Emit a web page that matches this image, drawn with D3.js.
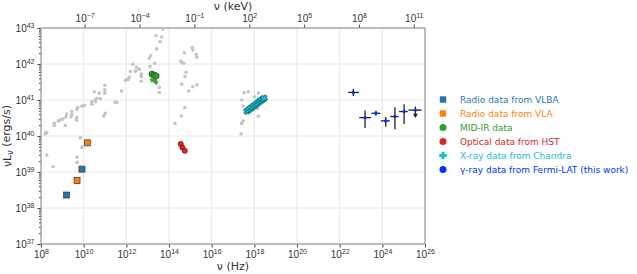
<!DOCTYPE html>
<html>
<head>
<meta charset="utf-8">
<script src="https://cdn.jsdelivr.net/npm/d3@7"></script>
<style>
  body { margin: 0; background: #fff; }
  svg { font-family: "DejaVu Sans", sans-serif; }
  .tick text { fill: #333; font-size: 10px; }
</style>
</head>
<body>
<svg width="637" height="274"></svg>
<script>
// all values are log10(nu / Hz) and log10(nuL_nu / erg s^-1)
var grayNu = [12.30, 12.42, 12.19, 12.09, 11.95, 11.78, 10.99, 10.99, 10.99, 10.50, 10.73, 10.62, 10.78, 10.53,
  10.38, 10.38, 10.55, 10.03, 9.92, 9.72, 9.69, 9.44, 9.44, 9.20, 9.17, 9.41, 9.67, 9.67, 9.02, 8.89, 8.81,
  8.62, 8.62, 9.14, 8.27, 8.20, 11.01, 10.94, 11.48, 11.56, 9.84,
  13.70, 13.39, 13.66, 13.58, 13.42, 13.14, 13.08, 13.33, 13.11, 12.49, 12.44, 12.61, 12.70, 12.70, 12.70,
  12.14, 12.05, 13.55, 13.55,
  15.09, 15.12, 14.72, 15.28, 15.30, 14.55, 14.61, 14.69, 14.80, 14.75, 14.60, 15.30, 15.11, 14.92, 14.74,
  14.58, 14.28,
  9.92, 8.27, 9.69, 9.69, 8.56, 8.23,
  17.52, 17.72, 17.41, 18.19, 18.00, 17.48, 18.16, 18.19, 17.48, 17.41, 17.38];
var grayL = [41.99, 41.79, 41.79, 41.57, 41.55, 41.25, 41.41, 41.28, 41.19, 41.23, 41.19, 41.05, 41.04, 41.00,
  40.95, 40.88, 40.95, 40.85, 40.83, 40.79, 40.74, 40.68, 40.59, 40.61, 40.53, 40.53, 40.51, 40.44, 40.47, 40.44, 40.42,
  40.35, 40.29, 40.29, 40.09, 40.06, 40.63, 40.56, 40.94, 40.93, 39.95,
  42.97, 42.79, 42.75, 42.62, 42.42, 42.23, 42.16, 42.02, 41.93, 41.91, 41.81, 41.85, 41.72, 41.65, 41.52,
  41.63, 41.57, 41.35, 41.21,
  42.46, 42.39, 42.31, 42.27, 42.19, 42.08, 42.04, 42.02, 41.77, 41.65, 41.44, 41.42, 41.37, 41.25, 40.79,
  40.56, 40.35,
  39.69, 39.47, 39.41, 39.27, 39.15, 40.10,
  41.20, 41.23, 41.00, 41.19, 41.09, 40.83, 40.77, 40.55, 40.42, 40.35, 40.06];

var vlbaNu = [9.20, 9.92], vlbaL = [38.36, 39.08];
var vlaNu = [9.69, 10.17], vlaL = [38.76, 39.81];
var irNu = [13.20, 13.31, 13.40], irL = [41.72, 41.69, 41.67], irLow = [41.52, 41.50, 41.45];
var optNu = [14.55, 14.63, 14.74], optL = [39.78, 39.68, 39.59];
var xrayNu = [17.65, 17.74, 17.83, 17.92, 18.00, 18.08, 18.16, 18.24, 18.32, 18.40, 18.46];
var xrayL = [40.69, 40.73, 40.77, 40.81, 40.84, 40.88, 40.92, 40.96, 40.99, 41.02, 41.05];
var gamNu = [22.64, 23.19, 23.70, 24.16, 24.59, 25.02, 25.55];
var gamL = [41.21, 40.51, 40.63, 40.42, 40.54, 40.68, 40.72];
var gamNuLo = [22.40, 22.92, 23.49, 23.93, 24.37, 24.78, 25.22];
var gamNuHi = [22.90, 23.47, 23.91, 24.35, 24.76, 25.19, 25.84];
var gamLLo = [41.11, 40.22, 40.56, 40.26, 40.19, 40.33, 40.55];
var gamLHi = [41.31, 40.71, 40.70, 40.53, 40.80, 40.88, 40.82];
var gamUL = [false, false, false, false, false, false, true];

var xTicks = [8, 10, 12, 14, 16, 18, 20, 22, 24, 26];
var yTicks = [37, 38, 39, 40, 41, 42, 43];
var topTicks = [-7, -4, -1, 2, 5, 8, 11];

var legendLabels = ["Radio data from VLBA", "Radio data from VLA", "MID-IR data",
  "Optical data from HST", "X-ray data from Chandra", "\u03b3-ray data from Fermi-LAT (this work)"];
var legendColors = ["#1f77b4", "#ff7f0e", "#2ca02c", "#d62728", "#17becf", "#0033ff"];
var legendShapes = ["square", "square", "circle", "circle", "plus", "circle"];

var svg = d3.select("svg");
var p = Math.pow.bind(null, 10);

var x = d3.scaleLog().domain([1e8, 1e26]).range([41, 425]);
var y = d3.scaleLog().domain([1e37, 1e43]).range([244, 28]);
var xTop = d3.scaleLog().domain([4.1e-10, 4.1e11]).range([41, 425]);

function sup(sel) {
  sel.each(function(d) {
    var e = Math.round(Math.log10(d));
    var t = d3.select(this).text("10");
    t.append("tspan").attr("dy", "-0.55em").style("font-size", "7px")
      .text(e < 0 ? "\u2212" + (-e) : e);
  });
}

// grid
svg.append("g").selectAll("line").data(xTicks).enter().append("line")
  .attr("x1", function(d) { return x(p(d)); }).attr("x2", function(d) { return x(p(d)); })
  .attr("y1", 28).attr("y2", 244).attr("stroke", "#e6e6e6");
svg.append("g").selectAll("line").data(yTicks).enter().append("line")
  .attr("y1", function(d) { return y(p(d)); }).attr("y2", function(d) { return y(p(d)); })
  .attr("x1", 41).attr("x2", 425).attr("stroke", "#e6e6e6");

// axes
var gx = svg.append("g").attr("transform", "translate(0,244)")
  .call(d3.axisBottom(x).tickValues(xTicks.map(p)).tickSize(3.5).tickPadding(3));
gx.selectAll(".tick text").call(sup);

var gt = svg.append("g").attr("transform", "translate(0,28)")
  .call(d3.axisTop(xTop).tickValues(topTicks.map(p)).tickSize(3.5).tickPadding(3));
gt.selectAll(".tick text").call(sup);

var minors = [];
for (var k = 37; k < 43; k++) for (var m = 2; m < 10; m++) minors.push(m * p(k));
svg.append("g").attr("transform", "translate(41,0)")
  .call(d3.axisLeft(y).tickValues(minors).tickSize(2).tickFormat(""));
var gy = svg.append("g").attr("transform", "translate(41,0)")
  .call(d3.axisLeft(y).tickValues(yTicks.map(p)).tickSize(3.5).tickPadding(3));
gy.selectAll(".tick text").call(sup);

svg.selectAll(".domain").remove();
svg.selectAll(".tick line").attr("stroke", "#444");
svg.append("rect").attr("x", 41).attr("y", 28).attr("width", 384).attr("height", 216)
  .attr("fill", "none").attr("stroke", "#999").attr("stroke-width", 1.2);

// axis titles
svg.append("text").attr("x", 233).attr("y", 270).attr("text-anchor", "middle")
  .style("font-size", "11px").attr("fill", "#333").text("\u03bd (Hz)");
svg.append("text").attr("x", 233).attr("y", 10).attr("text-anchor", "middle")
  .style("font-size", "11px").attr("fill", "#333").text("\u03bd (keV)");
var yl = svg.append("text").attr("transform", "translate(11,136) rotate(-90)")
  .attr("text-anchor", "middle").style("font-size", "11px").attr("fill", "#333");
yl.append("tspan").text("\u03bdL");
yl.append("tspan").attr("dy", "0.3em").style("font-size", "8px").text("\u03bd");
yl.append("tspan").attr("dy", "-0.3em").text(" (ergs/s)");

// gray literature points
svg.append("g").selectAll("circle").data(d3.range(grayNu.length)).enter().append("circle")
  .attr("cx", function(i) { return x(p(grayNu[i])); })
  .attr("cy", function(i) { return y(p(grayL[i])); })
  .attr("r", 1.8).attr("fill", "#c4c4c4");

// MID-IR with downward limits
var ir = svg.append("g");
d3.range(irNu.length).forEach(function(i) {
  var cx = x(p(irNu[i]));
  ir.append("line").attr("x1", cx).attr("x2", cx)
    .attr("y1", y(p(irL[i]))).attr("y2", y(p(irLow[i])))
    .attr("stroke", "#2ca02c").attr("stroke-width", 1.5);
  ir.append("path").attr("d", "M" + (cx - 1.8) + "," + (y(p(irLow[i])) - 2.5) + "L" + cx + "," + (y(p(irLow[i])) + 0.5) + "L" + (cx + 1.8) + "," + (y(p(irLow[i])) - 2.5))
    .attr("fill", "none").attr("stroke", "#2ca02c").attr("stroke-width", 1.2);
});
ir.selectAll("circle").data(d3.range(irNu.length)).enter().append("circle")
  .attr("cx", function(i) { return x(p(irNu[i])); })
  .attr("cy", function(i) { return y(p(irL[i])); })
  .attr("r", 3).attr("fill", "#2ca02c").attr("stroke", "#1a5e1a").attr("stroke-width", 0.7);

// optical
svg.append("g").selectAll("circle").data(d3.range(optNu.length)).enter().append("circle")
  .attr("cx", function(i) { return x(p(optNu[i])); })
  .attr("cy", function(i) { return y(p(optL[i])); })
  .attr("r", 2.6).attr("fill", "#d62728").attr("stroke", "#7a1010").attr("stroke-width", 0.7);

// radio squares
function squares(nu, L, col) {
  svg.append("g").selectAll("rect").data(d3.range(nu.length)).enter().append("rect")
    .attr("x", function(i) { return x(p(nu[i])) - 3; })
    .attr("y", function(i) { return y(p(L[i])) - 3; })
    .attr("width", 6).attr("height", 6)
    .attr("fill", col).attr("stroke", "#333").attr("stroke-width", 0.7);
}
squares(vlbaNu, vlbaL, "#1f77b4");
squares(vlaNu, vlaL, "#ff7f0e");

// X-ray plus markers
function plusPath(s, w) {
  return "M" + (-w) + "," + (-s) + "H" + w + "V" + (-w) + "H" + s + "V" + w + "H" + w + "V" + s +
    "H" + (-w) + "V" + w + "H" + (-s) + "V" + (-w) + "H" + (-w) + "Z";
}
svg.append("g").selectAll("path").data(d3.range(xrayNu.length)).enter().append("path")
  .attr("transform", function(i) { return "translate(" + x(p(xrayNu[i])) + "," + y(p(xrayL[i])) + ") rotate(35)"; })
  .attr("d", plusPath(3.4, 1.3))
  .attr("fill", "#17becf").attr("stroke", "#0b4f57").attr("stroke-width", 0.6);

// gamma rays with error bars
var gg = svg.append("g").attr("stroke", "#222").attr("stroke-width", 1.3);
d3.range(gamNu.length).forEach(function(i) {
  var cx = x(p(gamNu[i])), cy = y(p(gamL[i]));
  gg.append("line").attr("x1", x(p(gamNuLo[i]))).attr("x2", x(p(gamNuHi[i]))).attr("y1", cy).attr("y2", cy);
  gg.append("line").attr("x1", cx).attr("x2", cx).attr("y1", y(p(gamLHi[i]))).attr("y2", y(p(gamLLo[i])));
  if (gamUL[i]) {
    var yb = y(p(gamLLo[i]));
    gg.append("path").attr("d", "M" + (cx - 1.8) + "," + (yb - 2.5) + "L" + cx + "," + (yb + 0.5) + "L" + (cx + 1.8) + "," + (yb - 2.5))
      .attr("fill", "none");
  }
});
svg.append("g").selectAll("circle").data(d3.range(gamNu.length)).enter().append("circle")
  .attr("cx", function(i) { return x(p(gamNu[i])); })
  .attr("cy", function(i) { return y(p(gamL[i])); })
  .attr("r", 1.7).attr("fill", "#0033ff");

// legend
var lg = svg.append("g").selectAll("g").data(legendLabels).enter().append("g")
  .attr("transform", function(d, i) { return "translate(443," + (99.5 + i * 14) + ")"; });
lg.each(function(d, i) {
  var g = d3.select(this);
  if (legendShapes[i] === "square") {
    g.append("rect").attr("x", -3.2).attr("y", -3.2).attr("width", 6.4).attr("height", 6.4).attr("fill", legendColors[i]);
  } else if (legendShapes[i] === "circle") {
    g.append("circle").attr("r", 3.5).attr("fill", legendColors[i]);
  } else {
    g.append("path").attr("d", plusPath(3.8, 1.5)).attr("fill", legendColors[i]);
  }
  g.append("text").attr("x", 17).attr("y", 3.3).style("font-size", "9px")
    .attr("fill", legendColors[i]).text(d);
});
</script>
</body>
</html>
